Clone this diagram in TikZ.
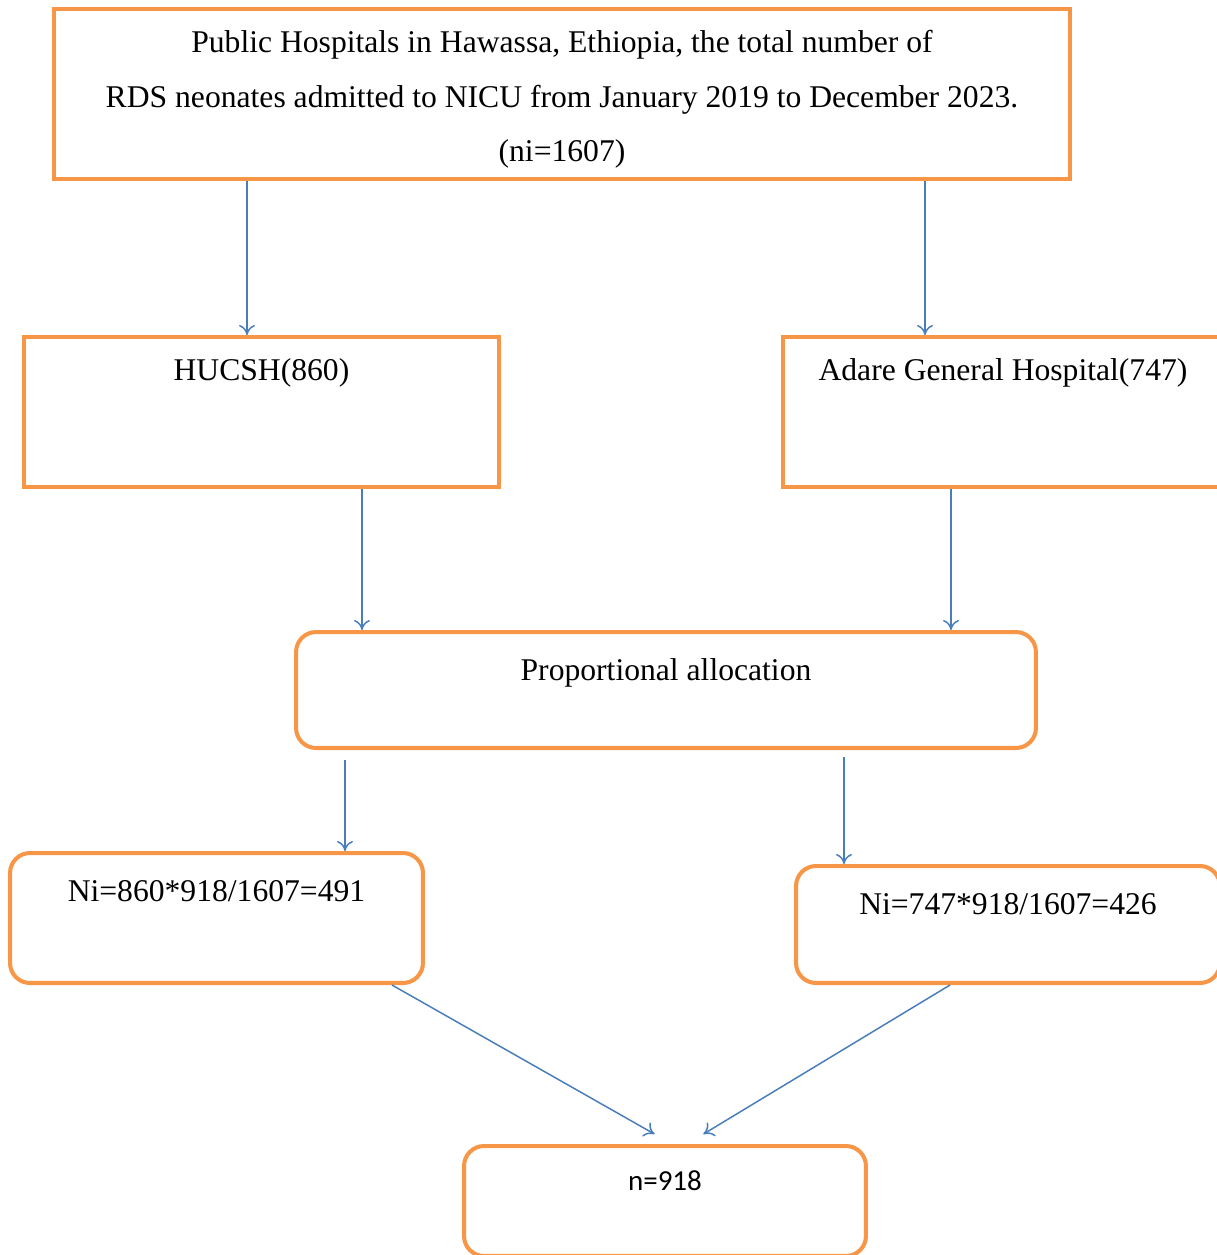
\documentclass[tikz,border=0pt]{standalone}
\usepackage{fontspec}
\setmainfont{Liberation Serif}
\newfontfamily\calibfont{Carlito}
\usetikzlibrary{arrows.meta}
\definecolor{boxorange}{HTML}{F79646}
\definecolor{arrowblue}{HTML}{4A7EBB}

\begin{document}
\begin{tikzpicture}[x=0.02cm,y=-0.02cm,
		box/.style={draw=boxorange,line width=2.3pt,inner xsep=0pt,inner ysep=0pt,font=\fontsize{18}{31}\selectfont},
		rbox/.style={box,rounded corners=0.4cm},
		arr/.style={draw=arrowblue,line width=0.85pt,-{To[length=2mm,width=3.2mm]}}]
	\useasboundingbox (0,0) rectangle (1217,1255);

	\begin{scope}
		\node[box,align=center,minimum width=20.32cm,text height=3.05cm,text depth=0.35cm] (pub) at (562,94)
			{Public Hospitals in Hawassa, Ethiopia, the total number of\\RDS neonates admitted to NICU from January 2019 to December 2023.\\(ni=1607)};
		\node[box,minimum width=9.5cm,text height=0.86cm,text depth=2.14cm] (hucsh) at (261.5,412) {HUCSH(860)};
		\node[box,minimum width=8.8cm,text height=0.86cm,text depth=2.14cm] (adare) at (1003,412) {Adare General Hospital(747)};
		\node[rbox,minimum width=14.8cm,text height=0.96cm,text depth=1.36cm] (prop) at (666,690) {Proportional allocation};
		\node[rbox,minimum width=8.26cm,text height=0.96cm,text depth=1.64cm] (nihucsh) at (216.5,918) {Ni=860*918/1607=491};
		\node[rbox,minimum width=8.48cm,text height=0.96cm,text depth=1.38cm] (niadare) at (1008,924.5) {Ni=747*918/1607=426};
		\node[rbox,minimum width=8.04cm,text height=0.89cm,text depth=1.31cm,font=\calibfont\fontsize{16.5}{20}\selectfont] (total) at (665,1201) {n=918};
	\end{scope}

	% x positions of the connectors
	\begin{scope}
		\coordinate (x1) at (247,0);
		\coordinate (x2) at (925,0);
		\coordinate (x3) at (362,0);
		\coordinate (x4) at (951,0);
		\coordinate (x5) at (345,0);
		\coordinate (x6) at (844,0);
		\coordinate (x7) at (392,0);
		\coordinate (x8) at (672,0);
		\coordinate (x9) at (950,0);
		\coordinate (x10) at (687,0);
	\end{scope}

	\begin{scope}
		\path (pub.south -| x1) edge[arr] (hucsh.north -| x1);
		\path (pub.south -| x2) edge[arr] (adare.north -| x2);
		\path (hucsh.south -| x3) edge[arr] (prop.north -| x3);
		\path (adare.south -| x4) edge[arr] (prop.north -| x4);
		\path (prop.south -| x5) edge[arr,shorten <=0.2cm] (nihucsh.north -| x5);
		\path (prop.south -| x6) edge[arr,shorten <=0.14cm] (niadare.north -| x6);
		\path (nihucsh.south -| x7) edge[arr,shorten >=0.4cm] (total.north -| x8);
		\path (niadare.south -| x9) edge[arr,shorten >=0.38cm] (total.north -| x10);
	\end{scope}
\end{tikzpicture}
\end{document}
